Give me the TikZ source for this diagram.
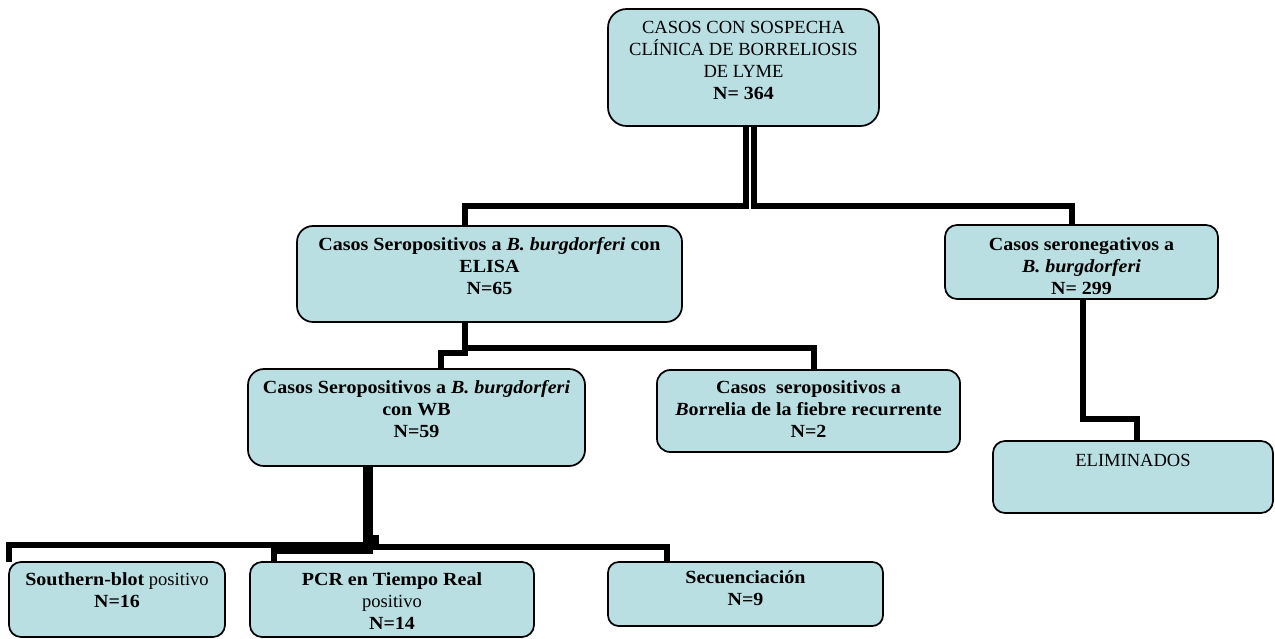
\documentclass[tikz,border=0pt]{standalone}
\usepackage{fontspec}
\setmainfont{Liberation Serif}[BoldFeatures={FakeStretch=1.08},BoldItalicFeatures={FakeStretch=1.08}]
\definecolor{boxfill}{RGB}{185,223,227}
\newcommand\bx[4]{\parbox[c][\dimexpr #2pt*3/4\relax][t]{\dimexpr #1pt*3/4\relax}{\centering\rule{0pt}{\dimexpr #3pt*3/4\relax}#4\par}}
\tikzset{
  box/.style={draw=black, line width=1.3pt, fill=boxfill, rounded corners=#1, inner sep=0pt, outer sep=0pt, anchor=north west},
  conn/.style={draw=black, line width=4.5pt, line cap=butt, line join=miter},
}
\begin{document}
\begin{tikzpicture}[x=0.75pt,y=-0.75pt]
\fontsize{13.9}{16.6}\selectfont
\useasboundingbox (0,0) rectangle (1275,639);
% boxes
\node[box=14pt] (top) at (608,9) {\bx{271}{117}{24}{CASOS CON SOSPECHA\\CLÍNICA DE BORRELIOSIS\\DE LYME\\\textbf{N= 364}}};
\node[box=12pt] (elisa) at (297,226) {\bx{385}{96}{24}{\textbf{Casos Seropositivos a \textit{B. burgdorferi} con\\ELISA\\N=65}}};
\node[box=9pt] (neg) at (945,225) {\bx{273}{74}{25}{\textbf{Casos seronegativos a\\\textit{B. burgdorferi}\\N= 299}}};
\node[box=9pt] (elim) at (993,441) {\bx{280}{72}{25}{ELIMINADOS}};
\node[box=12pt] (wb) at (248,369) {\bx{337}{97}{24}{\textbf{Casos Seropositivos a \textit{B. burgdorferi}\\con WB\\N=59}}};
\node[box=10pt] (bor) at (657,370) {\bx{303}{82}{23}{\textbf{Casos\ \ seropositivos a\\\textit{B}orrelia de la fiebre recurrente\\N=2}}};
\node[box=9pt] (south) at (9,562) {\bx{216}{75}{23}{\textbf{Southern-blot} positivo\\\textbf{N=16}}};
\node[box=9pt] (pcr) at (250,562) {\bx{284}{75}{23}{\textbf{PCR en Tiempo Real}\\positivo\\\textbf{N=14}}};
\node[box=8pt] (sec) at (608,562) {\bx{275}{64}{21}{\textbf{Secuenciación\\N=9}}};
% connectors
\draw[conn] (top.south -| 746,0) |- (465,206) -- (elisa.north -| 465,0);
\draw[conn] (top.south -| 753.5,0) |- (1072,206) -- (neg.north -| 1072,0);
\draw[conn] (neg.south -| 1083,0) |- (1137,419) -- (elim.north -| 1137,0);
\draw[conn] (elisa.south -| 465,0) |- (441,353) -- (wb.north -| 441,0);
\draw[conn] (elisa.south -| 465,0) |- (813.5,348) -- (bor.north -| 813.5,0);
\draw[conn] (wb.south -| 366,0) |- (9,544.5) -- (south.north -| 9,0);
\draw[conn] (wb.south -| 370,0) |- (273.5,550.5) -- (pcr.north -| 273.5,0);
\draw[conn] (wb.south -| 370,0) -- (370,538) -| (375.5,546.5) -- (667,546.5) -- (sec.north -| 667,0);
\end{tikzpicture}
\end{document}
